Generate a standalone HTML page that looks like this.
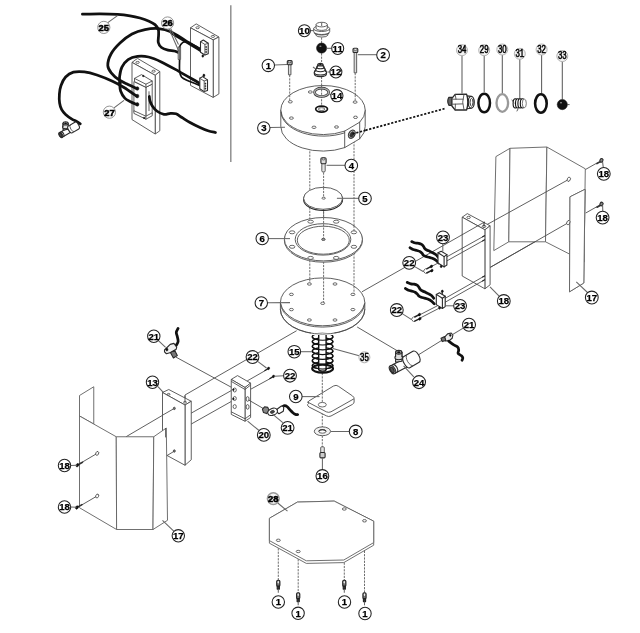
<!DOCTYPE html>
<html><head><meta charset="utf-8"><title>Exploded parts diagram</title>
<style>
html,body{margin:0;padding:0;background:#fff;}
body{width:640px;height:633px;overflow:hidden;font-family:"Liberation Sans",sans-serif;}
svg{display:block;will-change:transform;}
.t{fill:none;stroke:#4a4a4a;stroke-width:.88;stroke-linejoin:round;stroke-linecap:round}
.tf{fill:#fff;stroke:#4a4a4a;stroke-width:.88;stroke-linejoin:round}
.sf{fill:#fff;stroke:#606060;stroke-width:.9;stroke-linejoin:round}
.tk{fill:none;stroke:#2a2a2a;stroke-width:1.1;stroke-linejoin:round;stroke-linecap:round}
.tkf{fill:#fff;stroke:#2a2a2a;stroke-width:1.1;stroke-linejoin:round}
.g{fill:none;stroke:#777;stroke-width:.7}
.c{fill:none;stroke:#111;stroke-width:2.75;stroke-linecap:round;stroke-linejoin:round}
.c2{fill:none;stroke:#111;stroke-width:1.7;stroke-linecap:round;stroke-linejoin:round}
.d{fill:none;stroke:#666;stroke-width:.95;stroke-dasharray:2.2 1.1}
.dd{fill:none;stroke:#111;stroke-width:1.75;stroke-dasharray:2.2 1.6}
.ld{fill:none;stroke:#666;stroke-width:1.05}
.lg{fill:none;stroke:#5c5c5c;stroke-width:1.05}
.lb{fill:#fff;stroke:#222;stroke-width:1.05}
.lbg{fill:#f3f3f3;stroke:#aaa;stroke-width:.9}
.lt{font-family:"Liberation Sans",sans-serif;font-weight:bold;font-size:9.6px;text-anchor:middle;fill:#000;stroke:#000;stroke-width:.25}
.ltn{font-family:"Liberation Sans",sans-serif;font-weight:normal;font-size:9.8px;text-anchor:middle;fill:#000;stroke:#000;stroke-width:.5}
.lbi{fill:#fff;stroke:#888;stroke-width:.9}
.lti{font-family:"Liberation Sans",sans-serif;font-weight:bold;font-size:9.4px;text-anchor:middle;fill:#000;stroke:#000;stroke-width:.55}
.h{fill:#fff;stroke:#3a3a3a;stroke-width:.75}
.bk{fill:#111;stroke:#111;stroke-width:.5}
.gy{fill:#bbb;stroke:#333;stroke-width:.6}
</style></head><body>
<svg width="640" height="633" viewBox="0 0 640 633">
<rect x="0" y="0" width="640" height="633" fill="#fff"/>
<line class="lg" x1="230.8" y1="5.2" x2="230.8" y2="162" style="stroke:#8c8c8c;stroke-width:1.45"/>
<line class="d" x1="321.6" y1="37.5" x2="321.6" y2="43" />
<line class="d" x1="321.6" y1="53.3" x2="321.6" y2="63.5" />
<line class="d" x1="321.6" y1="76.8" x2="321.6" y2="88" />
<line class="d" x1="289.7" y1="75" x2="289.7" y2="95" />
<line class="d" x1="355.2" y1="73" x2="355.2" y2="95" />
<line class="d" x1="309.8" y1="148" x2="309.8" y2="284" />
<line class="d" x1="354" y1="141" x2="354" y2="294.3" />
<line class="d" x1="323.6" y1="172.5" x2="323.6" y2="303" />
<line class="d" x1="322.3" y1="373" x2="322.3" y2="447" />
<line class="t" x1="362.3" y1="291.6" x2="484" y2="222.3" />
<line class="t" x1="490.5" y1="267.2" x2="566.9" y2="223.5" />
<polyline class="t" points="296.3,330.9 185,395 185,402"/>
<line class="t" x1="357.5" y1="327.2" x2="397" y2="350.6" />
<line class="t" x1="418.8" y1="354.6" x2="442.5" y2="339.9" />
<line class="t" x1="176.3" y1="357.3" x2="233.8" y2="388.6" />
<line class="t" x1="126.3" y1="436.6" x2="173.3" y2="409" />
<line class="dd" x1="354.5" y1="133.3" x2="444.5" y2="108.7" />
<polygon class="tf" points="190.5,27.8 196.2,23.9 218.9,37 213.2,39.9"/>
<polygon class="tf" points="213.2,39.9 218.9,37 218.9,93.9 213.2,97.4"/>
<polygon class="tf" points="190.5,27.8 213.2,39.9 213.2,97.4 190.5,85.4"/>
<ellipse class="h" cx="197.6" cy="27.7" rx="1.7" ry="1" />
<ellipse class="h" cx="212.9" cy="36.4" rx="1.7" ry="1" />
<polygon class="tf" points="132,62.4 137.5,58.4 159.8,71.5 155.2,75.3"/>
<polygon class="tf" points="155.2,75.3 159.8,71.5 159.8,130.8 155.2,134"/>
<polygon class="tf" points="132,62.4 155.2,75.3 155.2,134 132,119.6"/>
<ellipse class="h" cx="137.6" cy="62.4" rx="1.7" ry="1" />
<ellipse class="h" cx="153.6" cy="71.2" rx="1.7" ry="1" />
<polygon class="tf" points="145.9,87.3 152.2,84.1 152.2,114.2 145.9,117.4"/>
<polygon class="tf" points="133.9,81.6 145.9,87.3 145.9,117.4 133.9,111.6"/>
<polygon class="tf" points="134.5,78.4 141.5,74.6 152.2,81 152.2,84.1 145.9,87.3 134.5,81.6"/>
<polyline class="t" points="134.5,78.4 145.9,84.2 152.2,81"/>
<line class="t" x1="145.9" y1="84.2" x2="145.9" y2="87.3" />
<polygon class="tf" points="133.9,110.7 145.9,116.2 152.2,112.8 152.2,115.8 145.9,119.2 133.9,113.4"/>
<line class="t" x1="145.9" y1="116.2" x2="145.9" y2="119.2" />
<line class="t" x1="149" y1="91.7" x2="149" y2="110.7" />
<ellipse class="bk" cx="143.3" cy="76" rx="0.9" ry="0.7" />
<ellipse class="bk" cx="144.2" cy="117.9" rx="0.9" ry="0.7" />
<ellipse class="bk" cx="137.3" cy="88.5" rx="1.6" ry="1.8" />
<ellipse class="bk" cx="137.3" cy="96.1" rx="1.6" ry="1.8" />
<ellipse class="bk" cx="137.3" cy="104.4" rx="1.6" ry="1.8" />
<path class="c" d="M82.4,14.2 C85.33,14.15 94.15,13.87 100,13.9 C105.85,13.93 112.5,14.08 117.5,14.4 C122.5,14.72 126.25,15.2 130,15.8 C133.75,16.4 136.83,17.1 140,18 C143.17,18.9 146.5,20.1 149,21.2 C151.5,22.3 153.45,23.22 155,24.6 C156.55,25.98 157.7,27.77 158.3,29.5 C158.9,31.23 158.6,32.83 158.6,35 C158.6,37.17 157.82,40.42 158.3,42.5 C158.78,44.58 159.88,46.22 161.5,47.5 C163.12,48.78 165.85,49.62 168,50.2 C170.15,50.78 172.63,50.6 174.4,51 C176.17,51.4 177.9,52.33 178.6,52.6" />
<path class="c" d="M200.3,49 C199.75,48.75 199.47,48.9 197,47.5 C194.53,46.1 189.78,43.18 185.5,40.6 C181.22,38.02 175.8,34 171.3,32 C166.8,30 162.88,29 158.5,28.6 C154.12,28.2 149.42,28.7 145,29.6 C140.58,30.5 136.17,31.77 132,34 C127.83,36.23 123.5,39.67 120,43 C116.5,46.33 113.03,50.23 111,54 C108.97,57.77 107.68,62.37 107.8,65.6 C107.92,68.83 109.88,71.05 111.7,73.4 C113.53,75.75 116.03,77.85 118.75,79.7 C121.47,81.55 125.04,83.05 128,84.5 C130.96,85.95 135.08,87.75 136.5,88.4" />
<path class="c2" d="M200.3,51 C199.83,50.72 199.55,50.55 197.5,49.3 C195.45,48.05 191.25,45.47 188,43.5 C184.75,41.53 180.78,39.17 178,37.5 C175.22,35.83 172.42,34.17 171.3,33.5" />
<path class="c" d="M199.8,83.4 C199.33,83.13 200.57,83.85 197,81.8 C193.43,79.75 184.35,74.42 178.4,71.1 C172.45,67.78 166.28,64.25 161.3,61.9 C156.32,59.55 152.47,57.92 148.5,57 C144.53,56.08 140.9,55.97 137.5,56.4 C134.1,56.83 130.7,57.8 128.1,59.6 C125.5,61.4 123.32,64.37 121.9,67.2 C120.48,70.03 119.95,73.8 119.6,76.6 C119.25,79.4 119.63,81.6 119.8,84 C119.97,86.4 119.73,88.6 120.6,91 C121.47,93.4 123.27,96.57 125,98.4 C126.73,100.23 129.08,101 131,102 C132.92,103 135.58,104 136.5,104.4" />
<path class="c2" d="M199.8,85.6 C199.38,85.4 199.27,85.2 197.3,84.4 C195.33,83.6 190.63,82.03 188,80.8 C185.37,79.57 182.9,78.63 181.5,77 C180.1,75.37 179.92,73.83 179.6,71 C179.28,68.17 179.6,61.83 179.6,60" />
<circle class="bk" cx="119.8" cy="83.4" r="1.5"/>
<path class="c2" d="M179.4,47.5 C179.67,46.97 180.23,45.22 181,44.3 C181.77,43.38 182.67,42.3 184,42 C185.33,41.7 186.83,41.7 189,42.5 C191.17,43.3 195.67,46.08 197,46.8" />
<polygon class="tf" points="178.2,47 180.6,47 180.6,59.5 178.2,59.5"/>
<line class="t" x1="179.4" y1="47" x2="179.4" y2="59.5" />
<path class="c" d="M80.3,123.8 C79.68,123.4 78,122.18 76.6,121.4 C75.2,120.62 73.73,120.27 71.9,119.1 C70.07,117.93 67.3,115.97 65.6,114.4 C63.9,112.83 62.7,111.6 61.7,109.7 C60.7,107.8 59.98,105.62 59.6,103 C59.22,100.38 59.17,96.92 59.4,94 C59.63,91.08 59.97,88.33 61,85.5 C62.03,82.67 63.53,79.22 65.6,77 C67.67,74.78 70.27,73.05 73.4,72.2 C76.53,71.35 80.48,71.43 84.4,71.9 C88.32,72.37 92.22,73.44 96.9,75 C101.58,76.56 107.98,79.17 112.5,81.25 C117.02,83.33 120,85.03 124,87.5 C128,89.97 134.42,94.67 136.5,96.1" />
<path class="c" d="M149.3,96.5 C149.42,97.25 149.5,99.42 150,101 C150.5,102.58 151.17,104.33 152.3,106 C153.43,107.67 154.87,109.6 156.8,111 C158.73,112.4 161.62,114.02 163.9,114.4 C166.18,114.78 168.48,113.4 170.5,113.3 C172.52,113.2 174.08,113.1 176,113.8 C177.92,114.5 179.67,116.05 182,117.5 C184.33,118.95 187,120.83 190,122.5 C193,124.17 197,126.12 200,127.5 C203,128.88 205.42,129.97 208,130.8 C210.58,131.63 214.25,132.22 215.5,132.5" />
<polygon class="tkf" points="200.5,41.7 203.3,40 208.2,43.3 208.2,53.8 204.9,55 200.5,52.2"/>
<polyline class="t" points="200.5,41.7 204.9,44.4 208.2,43.3"/>
<line class="t" x1="204.9" y1="44.4" x2="204.9" y2="55" />
<ellipse class="bk" cx="206.1" cy="47" rx="0.5" ry="0.7" />
<ellipse class="bk" cx="206.1" cy="49.5" rx="0.5" ry="0.7" />
<ellipse class="bk" cx="206.1" cy="52" rx="0.5" ry="0.7" />
<polygon class="tkf" points="199.8,78.3 202.6,76.6 207.5,79.9 207.5,90.4 204.2,91.6 199.8,88.8"/>
<polyline class="t" points="199.8,78.3 204.2,81 207.5,79.9"/>
<line class="t" x1="204.2" y1="81" x2="204.2" y2="91.6" />
<ellipse class="bk" cx="205.4" cy="83.6" rx="0.5" ry="0.7" />
<ellipse class="bk" cx="205.4" cy="86.1" rx="0.5" ry="0.7" />
<ellipse class="bk" cx="205.4" cy="88.6" rx="0.5" ry="0.7" />
<ellipse class="bk" cx="202.8" cy="56" rx="0.9" ry="1.2" />
<ellipse class="bk" cx="203.9" cy="75.4" rx="1" ry="1.3" />
<path class="tkf" d="M68.85,127.16 L59.45,132.66 L62.15,137.34 L71.55,131.84 Z" />
<ellipse class="tkf" cx="60.8" cy="135" rx="2.84" ry="1.62" transform="rotate(60 60.8 135)" style="fill:#aaa"/>
<ellipse class="tkf" cx="60.57" cy="135.13" rx="1.84" ry="0.97" transform="rotate(60 60.57 135.13)" style="fill:#555"/>
<path class="tk" d="M61.2,131.65 A2.84,1.62 60 0 1 63.9,136.33" />
<path class="tkf" d="M63.1,130.2 L63.1,123.4 L68.1,123.4 L68.1,129.2 Z" style="fill:#ddd"/>
<path class="tk" d="M63.1,126.7 A2.5,1.6 0 0 0 68.1,126.7" />
<ellipse class="tkf" cx="65.6" cy="127.02" rx="3.05" ry="1.84" style="fill:#ddd"/>
<path class="tkf" d="M63.1,126.7 L63.1,123.4 L68.1,123.4 L68.1,126.7" style="fill:#ddd"/>
<ellipse class="tkf" cx="65.6" cy="123.4" rx="2.5" ry="1.6" style="fill:#bbb"/>
<ellipse class="bk" cx="65.6" cy="123.4" rx="1.2" ry="0.72" />
<path class="tkf" d="M68.25,126.12 L74.85,122.22 A3.9,1.95 60 0 1 78.75,128.98 L72.15,132.88 A3.9,1.72 60 0 1 68.25,126.12 Z" />
<path class="t" d="M70.38,124.89 A3.9,1.72 60 0 0 74.28,131.65" />
<line class="ld" x1="117.5" y1="15.6" x2="107.8" y2="22.6" />
<circle class="lbi" cx="103.8" cy="27.4" r="6.1"/>
<text class="lti" x="103.8" y="30.7">25</text>
<line class="ld" x1="169.2" y1="29" x2="178.9" y2="51.5" />
<line class="ld" x1="170.6" y1="28.6" x2="178.5" y2="44.5" />
<circle class="lbi" cx="167.6" cy="23" r="6.1"/>
<text class="lti" x="167.6" y="26.3">26</text>
<line class="ld" x1="114" y1="107.8" x2="124" y2="100.3" />
<circle class="lbi" cx="109.4" cy="112.2" r="6.1"/>
<text class="lti" x="109.4" y="115.5">27</text>
<path class="tf" d="M315.8,32.8 L315.8,35.2 A6.2,2.4 0 0 0 327.9,35.2 L327.9,32.8" />
<path class="tf" d="M313.7,28.6 L313.7,31.6 A8,2.9 0 0 0 329.7,31.6 L329.7,28.6" />
<ellipse class="tf" cx="321.7" cy="28.6" rx="8" ry="2.9" />
<path class="tf" d="M316.1,24.6 L316.1,28.2 A5.6,2.2 0 0 0 327.3,28.2 L327.3,24.6" />
<ellipse class="tf" cx="321.7" cy="24.6" rx="5.6" ry="2.3" />
<line class="t" x1="321.7" y1="23" x2="321.7" y2="25.6" />
<path class="t" d="M314.2,33.2 A8,2.9 0 0 0 329.2,33.2" />
<line class="ld" x1="310.6" y1="30.6" x2="313.6" y2="30.6" />
<circle class="lb" cx="304.4" cy="30.7" r="6"/>
<text class="lt" x="304.4" y="34.1">10</text>
<circle class="bk" cx="321.6" cy="48.1" r="5.1"/>
<ellipse class="gy" cx="320.4" cy="46.2" rx="1.1" ry="0.8" style="fill:#888;stroke:none"/>
<line class="ld" x1="326.9" y1="48.3" x2="331.6" y2="48.3" />
<circle class="lb" cx="337.7" cy="48.4" r="6"/>
<text class="lt" x="337.7" y="51.8">11</text>
<path class="tkf" d="M314.3,72.2 L314.3,73.8 A6.1,2.8 0 0 0 326.5,73.8 L326.5,72.2" />
<ellipse class="tkf" cx="320.4" cy="72.2" rx="6.1" ry="2.8" />
<path class="tk" d="M315.6,69.5 L315.2,71.5 M325.2,69.5 L325.6,71.5" />
<ellipse class="tkf" cx="320.4" cy="69.6" rx="4.8" ry="2.2" />
<path class="tk" d="M316.8,67 L316.4,69 M324,67 L324.4,69" />
<ellipse class="tkf" cx="320.4" cy="67" rx="3.6" ry="1.8" />
<path class="tk" d="M317.9,64.6 L317.6,66.6 M322.9,64.6 L323.2,66.6" />
<ellipse class="tkf" cx="320.4" cy="64.7" rx="2.5" ry="1.3" />
<ellipse class="bk" cx="320.4" cy="64.7" rx="1.2" ry="0.6" />
<line class="ld" x1="313" y1="67" x2="315" y2="68.5" />
<line class="ld" x1="327.4" y1="72" x2="329.8" y2="72" />
<circle class="lb" cx="335.9" cy="72" r="6"/>
<text class="lt" x="335.9" y="75.4">12</text>
<rect class="tf" x="288.45" y="64.5" width="2.5" height="10.3" style="fill:#ddd"/>
<rect class="tkf" x="287.3" y="60.6" width="4.8" height="4.2" rx="1" style="fill:#bbb"/>
<ellipse class="h" cx="289.7" cy="61.8" rx="1.7" ry="0.9" />
<rect class="tf" x="354.15" y="52.2" width="2.5" height="20.6" style="fill:#ddd"/>
<rect class="tkf" x="353" y="48.3" width="4.8" height="4.2" rx="1" style="fill:#bbb"/>
<ellipse class="h" cx="355.4" cy="49.5" rx="1.7" ry="0.9" />
<line class="ld" x1="274.5" y1="65" x2="287.3" y2="64.6" />
<circle class="lb" cx="268.3" cy="65.4" r="6.2"/>
<text class="lt" x="268.3" y="68.8">1</text>
<line class="ld" x1="357.8" y1="54.7" x2="376.8" y2="54.7" />
<circle class="lb" cx="383.1" cy="55" r="6.4"/>
<text class="lt" x="383.1" y="58.4">2</text>
<path class="tf" d="M280.8,110 L280.8,126.5 A42.2,24.5 0 0 0 344.7,147.6 L359.7,138.8 A42.2,24.5 0 0 0 365.2,126.5 L365.2,110 Z" />
<path class="tf" d="M280.8,110 A42.2,24.5 0 0 1 365.2,110 A42.2,24.5 0 0 1 359.7,122.2 L344.7,131.1 A42.2,24.5 0 0 1 280.8,110 Z" />
<path class="t" d="M281,112.2 A42.2,24.5 0 0 0 344.7,132.8" />
<line class="t" x1="344.7" y1="131.1" x2="344.7" y2="147.6" />
<line class="t" x1="359.7" y1="122.2" x2="359.7" y2="138.8" />
<ellipse class="h" cx="290.3" cy="101.8" rx="2" ry="1.2" />
<ellipse class="h" cx="310.3" cy="92" rx="2" ry="1.2" />
<ellipse class="h" cx="291.4" cy="118.1" rx="2" ry="1.2" />
<ellipse class="h" cx="314" cy="127.3" rx="2" ry="1.2" />
<ellipse class="h" cx="336.5" cy="127" rx="2" ry="1.2" />
<ellipse class="h" cx="355.5" cy="117.3" rx="2" ry="1.2" />
<ellipse class="h" cx="355.1" cy="102.1" rx="2" ry="1.2" />
<ellipse class="tf" cx="351.8" cy="134.2" rx="3.1" ry="4.4" transform="rotate(30 351.8 134.2)" style="fill:#bbb;stroke:#222;stroke-width:1"/>
<ellipse class="gy" cx="352" cy="134.4" rx="1.8" ry="2.9" transform="rotate(30 352 134.4)" style="fill:#333"/>
<line class="d" x1="289.7" y1="95" x2="289.7" y2="101" />
<line class="d" x1="355.2" y1="95" x2="355.2" y2="101.3" />
<line class="d" x1="321.6" y1="86" x2="321.6" y2="106.4" />
<ellipse class="t" cx="321.6" cy="92.3" rx="7.1" ry="4.2" style="stroke:#2a2a2a;stroke-width:2.6"/>
<ellipse class="t" cx="321.6" cy="92.3" rx="7.1" ry="4.2" style="stroke:#aaa;stroke-width:1.4"/>
<ellipse class="t" cx="321.6" cy="109.1" rx="5.9" ry="3" style="stroke:#111;stroke-width:1.7;fill:#fff"/>
<ellipse class="h" cx="321.6" cy="109.1" rx="3.2" ry="1.4" />
<line class="ld" x1="329.6" y1="94.3" x2="331" y2="94.8" />
<circle class="lb" cx="336.9" cy="95.7" r="6.1"/>
<text class="lt" x="336.9" y="99.1">14</text>
<line class="ld" x1="270" y1="127.5" x2="285" y2="127.3" />
<circle class="lb" cx="263.8" cy="127.9" r="6.2"/>
<text class="lt" x="263.8" y="131.3">3</text>
<line class="dd" x1="352.6" y1="133.8" x2="366" y2="130.15" />
<rect class="tf" x="321.8" y="163" width="3.4" height="9" rx="1.2" style="fill:#e4e4e4"/>
<rect class="tkf" x="320.9" y="157.7" width="5.2" height="6" rx="1.2" style="fill:#ddd"/>
<ellipse class="h" cx="323.5" cy="159" rx="1.8" ry="0.9" />
<line class="ld" x1="326.5" y1="165.3" x2="345.2" y2="165.3" />
<circle class="lb" cx="351.3" cy="165.5" r="6.3"/>
<text class="lt" x="351.3" y="168.9">4</text>
<ellipse class="tk" cx="323.1" cy="199.5" rx="19.5" ry="11" />
<ellipse class="tf" cx="323.1" cy="198.3" rx="19.5" ry="11" />
<line class="d" x1="323.6" y1="187.6" x2="323.6" y2="197.4" />
<ellipse class="h" cx="323.65" cy="198.2" rx="1.7" ry="1" />
<line class="ld" x1="336.9" y1="198.3" x2="358.7" y2="198.3" />
<circle class="lb" cx="365" cy="198.5" r="6.3"/>
<text class="lt" x="365" y="201.9">5</text>
<ellipse class="tf" cx="323.4" cy="240.5" rx="39" ry="21.7" />
<ellipse class="tf" cx="323.4" cy="239.2" rx="39" ry="21.7" />
<ellipse class="tf" cx="323" cy="239.4" rx="27.8" ry="15.7" />
<ellipse class="tf" cx="323.3" cy="240.2" rx="26" ry="14" />
<ellipse class="h" cx="292.1" cy="232.3" rx="2.8" ry="1.5" />
<ellipse class="h" cx="292.1" cy="246.8" rx="2.8" ry="1.5" />
<ellipse class="h" cx="310.6" cy="221.7" rx="2.8" ry="1.5" />
<ellipse class="h" cx="310.6" cy="257.9" rx="2.8" ry="1.5" />
<ellipse class="h" cx="353.9" cy="232.3" rx="2.8" ry="1.5" />
<ellipse class="h" cx="353.9" cy="246.8" rx="2.8" ry="1.5" />
<ellipse class="h" cx="336.2" cy="221.7" rx="2.8" ry="1.5" />
<ellipse class="h" cx="336.2" cy="257.9" rx="2.8" ry="1.5" />
<line class="d" x1="354" y1="225.6" x2="354" y2="231.4" />
<line class="d" x1="323.6" y1="211" x2="323.6" y2="238.6" />
<ellipse class="h" cx="323.4" cy="239.4" rx="1.8" ry="1.1" style="fill:#999"/>
<line class="ld" x1="268.3" y1="238.6" x2="290" y2="238.6" />
<circle class="lb" cx="262.2" cy="238.6" r="6.2"/>
<text class="lt" x="262.2" y="242">6</text>
<path class="tf" d="M280.40000000000003,302.5 L280.40000000000003,309.5 A42.2,24.6 0 0 0 364.8,309.5 L364.8,302.5 Z" />
<ellipse class="tf" cx="322.6" cy="302.5" rx="42.2" ry="24.6" />
<path class="t" d="M280.70000000000005,304.1 A42.2,24.6 0 0 0 364.5,304.1" />
<line class="d" x1="309.8" y1="279.3" x2="309.8" y2="283.4" />
<line class="d" x1="354" y1="286.2" x2="354" y2="293.6" />
<line class="d" x1="323.6" y1="278" x2="323.6" y2="302.6" />
<ellipse class="h" cx="309.4" cy="284" rx="2" ry="1.2" />
<ellipse class="h" cx="335" cy="284" rx="2" ry="1.2" />
<ellipse class="h" cx="291.4" cy="294.4" rx="2" ry="1.2" />
<ellipse class="h" cx="352.9" cy="294.4" rx="2" ry="1.2" />
<ellipse class="h" cx="291.4" cy="309.6" rx="2" ry="1.2" />
<ellipse class="h" cx="352.9" cy="309.6" rx="2" ry="1.2" />
<ellipse class="h" cx="309.4" cy="320" rx="2" ry="1.2" />
<ellipse class="h" cx="335" cy="320" rx="2" ry="1.2" />
<ellipse class="h" cx="322.7" cy="303.3" rx="2" ry="1.2" />
<line class="ld" x1="267.5" y1="302.8" x2="290" y2="302.6" />
<circle class="lb" cx="261.3" cy="303" r="6.2"/>
<text class="lt" x="261.3" y="306.4">7</text>
<ellipse class="c2" cx="322.6" cy="336.7" rx="10.3" ry="3.5" style="stroke-width:1.35"/>
<ellipse class="c2" cx="322.6" cy="341.5" rx="10.3" ry="3.5" style="stroke-width:1.35"/>
<ellipse class="c2" cx="322.6" cy="346.3" rx="10.3" ry="3.5" style="stroke-width:1.35"/>
<ellipse class="c2" cx="322.6" cy="351.1" rx="10.3" ry="3.5" style="stroke-width:1.35"/>
<ellipse class="c2" cx="322.6" cy="355.9" rx="10.3" ry="3.5" style="stroke-width:1.35"/>
<ellipse class="c2" cx="322.6" cy="360.7" rx="10.3" ry="3.5" style="stroke-width:1.35"/>
<ellipse class="c2" cx="322.6" cy="365.5" rx="10.3" ry="3.5" style="stroke-width:1.35"/>
<rect x="318.7" y="333" width="7.4" height="36.6" fill="#fff"/>
<path class="c2" d="M318.7,369.4 A3.7,1.7 0 0 0 326.1,369.4" style="stroke-width:1.3;fill:#fff"/>
<line class="c2" x1="318.7" y1="334" x2="318.7" y2="369.4" style="stroke-width:1.4"/>
<line class="c2" x1="326.1" y1="334" x2="326.1" y2="369.4" style="stroke-width:1.4"/>
<path class="c2" d="M312.3,336.7 A10.3,3.5 0 0 0 332.9,336.7" style="stroke-width:1.15"/>
<path class="c2" d="M312.3,341.5 A10.3,3.5 0 0 0 332.9,341.5" style="stroke-width:1.15"/>
<path class="c2" d="M312.3,346.3 A10.3,3.5 0 0 0 332.9,346.3" style="stroke-width:1.15"/>
<path class="c2" d="M312.3,351.1 A10.3,3.5 0 0 0 332.9,351.1" style="stroke-width:1.15"/>
<path class="c2" d="M312.3,355.9 A10.3,3.5 0 0 0 332.9,355.9" style="stroke-width:1.15"/>
<path class="c2" d="M312.3,360.7 A10.3,3.5 0 0 0 332.9,360.7" style="stroke-width:1.15"/>
<path class="c2" d="M312.3,365.5 A10.3,3.5 0 0 0 332.9,365.5" style="stroke-width:1.15"/>
<ellipse class="c2" cx="322.6" cy="368.6" rx="10.4" ry="4" style="stroke-width:2.1"/>
<path class="tf" d="M311,331.5 A42.2,24.6 0 0 0 334.5,331.3 L334.5,335 L311,335 Z" style="stroke:none"/>
<path class="t" d="M280.4,309.5 A42.2,24.6 0 0 0 364.8,309.5" />
<line class="ld" x1="300.6" y1="351.7" x2="312" y2="351.7" />
<circle class="lb" cx="294.3" cy="351.7" r="6.3"/>
<text class="lt" x="294.3" y="355.1">15</text>
<line class="ld" x1="332.8" y1="348.4" x2="359.2" y2="355.7" />
<circle class="lbg" cx="364.4" cy="357.3" r="5.5"/>
<text class="ltn" transform="translate(364.4,360.5) scale(.8,1.06)">35</text>
<path class="tf" d="M308.5,403.5 Q307,402.2 308.8,401 L333.5,386 Q336.3,384.6 338.3,386.2 L352.6,396 Q354.3,397.3 354.1,398.6 L354.1,402 Q354.1,403.4 352.4,404.4 L331,416 Q328.6,417.1 326.3,415.8 L309,407 Q307.4,406 307.6,404.5 Z" />
<path class="t" d="M307.9,402.2 L326.3,411.8 Q328.6,412.9 331,411.8 L353.6,399" />
<line class="d" x1="322.3" y1="389.8" x2="322.3" y2="402.6" />
<ellipse class="h" cx="322.3" cy="404.7" rx="4" ry="2.3" />
<line class="ld" x1="302" y1="396.6" x2="319.5" y2="396.6" />
<circle class="lb" cx="295.8" cy="396.5" r="6.3"/>
<text class="lt" x="295.8" y="399.9">9</text>
<ellipse class="tf" cx="322.4" cy="431.3" rx="8.1" ry="4.4" style="fill:#f2f2f2"/>
<ellipse class="h" cx="322.4" cy="431.4" rx="3.6" ry="1.8" />
<path class="tk" d="M319,431 A3.6,1.8 0 0 1 325.8,431" />
<line class="ld" x1="331" y1="431.5" x2="349.3" y2="431.5" />
<circle class="lb" cx="355.7" cy="431.5" r="6.4"/>
<text class="lt" x="355.7" y="434.9">8</text>
<rect class="tf" x="320.7" y="446.8" width="3.6" height="7" rx="1" style="fill:#e4e4e4"/>
<rect class="tkf" x="319.9" y="452.5" width="5.2" height="5.4" rx="1.1" style="fill:#ccc"/>
<line class="ld" x1="322.4" y1="458" x2="322.4" y2="470" />
<circle class="lb" cx="322.4" cy="476" r="6.4"/>
<text class="lt" x="322.4" y="479.4">16</text>
<line class="lg" x1="462" y1="55.5" x2="462" y2="93.6" />
<line class="lg" x1="484.2" y1="55.5" x2="484.2" y2="92" />
<line class="lg" x1="502.3" y1="55" x2="502.3" y2="93.6" />
<line class="lg" x1="519.8" y1="59" x2="519.8" y2="106" />
<line class="lg" x1="541.6" y1="55" x2="541.6" y2="93.6" />
<line class="lg" x1="562.3" y1="61.5" x2="562.3" y2="99.5" />
<path class="tkf" d="M452.4,97.3 L448.9,97.3 Q446.5,101.3 448.9,105.3 L452.4,105.3 Z" style="fill:#666;stroke-width:1.2"/>
<path class="tkf" d="M467,95.9 L471.2,96.4 L471.2,108.2 L467,108.8 Z" />
<ellipse class="tkf" cx="471.2" cy="102.3" rx="3" ry="5.9" style="stroke-width:1.3"/>
<ellipse class="tkf" cx="471.5" cy="102.3" rx="1.5" ry="3.9" style="stroke-width:1"/>
<path class="tkf" d="M451.9,98.3 L455.2,94.3 L466.6,94.1 Q469,102 466.6,110 L455.2,110 L451.9,106 Z" style="stroke-width:1.3"/>
<line class="t" x1="452.6" y1="99.2" x2="463.2" y2="99.2" />
<line class="t" x1="452.6" y1="104.2" x2="462.6" y2="103.9" />
<path class="t" d="M463.9,94.6 Q461.4,102 463.9,109.6" />
<line class="t" x1="455.2" y1="94.3" x2="456" y2="99.2" />
<line class="t" x1="455.4" y1="104.2" x2="455.2" y2="110" />
<ellipse class="t" cx="484.2" cy="103" rx="5.8" ry="9.3" style="stroke:#111;stroke-width:2.5"/>
<ellipse class="t" cx="502.3" cy="103" rx="5.8" ry="8.8" style="stroke:#999;stroke-width:2.3"/>
<ellipse class="tf" cx="515.3" cy="103.4" rx="2.2" ry="4.6" style="stroke:#111;stroke-width:1.1"/>
<ellipse class="tf" cx="517.7" cy="103.4" rx="2.2" ry="4.6" style="stroke:#111;stroke-width:1.1"/>
<ellipse class="tf" cx="520.1" cy="103.4" rx="2.2" ry="4.6" style="stroke:#111;stroke-width:1.1"/>
<ellipse class="tf" cx="522.5" cy="103.4" rx="2.2" ry="4.6" style="stroke:#111;stroke-width:1.1"/>
<ellipse class="tf" cx="524.3" cy="103.4" rx="2" ry="4.3" style="stroke:#444;stroke-width:.7"/>
<line class="t" x1="512" y1="100" x2="514" y2="103" />
<line class="t" x1="518" y1="109" x2="517" y2="111" />
<ellipse class="t" cx="540.9" cy="103.5" rx="5.8" ry="9.2" style="stroke:#111;stroke-width:2.6"/>
<circle class="bk" cx="562.3" cy="104.6" r="5.1"/>
<ellipse class="gy" cx="561" cy="102.8" rx="1" ry="0.8" style="fill:#999;stroke:none"/>
<line class="t" x1="567.4" y1="104.6" x2="569.2" y2="104.6" />
<circle class="lbg" cx="462" cy="50.2" r="5.5"/>
<text class="ltn" transform="translate(462,53.4) scale(.8,1.06)">34</text>
<circle class="lbg" cx="484.2" cy="50.2" r="5.5"/>
<text class="ltn" transform="translate(484.2,53.4) scale(.8,1.06)">29</text>
<circle class="lbg" cx="502.3" cy="49.5" r="5.5"/>
<text class="ltn" transform="translate(502.3,52.7) scale(.8,1.06)">30</text>
<circle class="lbg" cx="519.8" cy="53.8" r="5.5"/>
<text class="ltn" transform="translate(519.8,57) scale(.8,1.06)">31</text>
<circle class="lbg" cx="541.6" cy="49.5" r="5.5"/>
<text class="ltn" transform="translate(541.6,52.7) scale(.8,1.06)">32</text>
<circle class="lbg" cx="562.3" cy="56.1" r="5.5"/>
<text class="ltn" transform="translate(562.3,59.3) scale(.8,1.06)">33</text>
<polygon class="sf" points="495.9,156.6 510,148.3 508.8,241.8 493.8,250.6"/>
<polygon class="sf" points="510,148.3 546.9,147 545.5,241.8 508.8,241.8"/>
<polygon class="sf" points="546.9,147 585.3,168.8 585,189.3 584.1,262 570,254.3 545.5,241.8"/>
<polygon class="sf" points="570,196.8 585,189.3 583.8,283 569.5,291.8"/>
<line class="t" x1="567.3" y1="180.2" x2="485.5" y2="225.4" />
<line class="t" x1="566.9" y1="223.5" x2="490.5" y2="267.2" />
<polygon class="sf" points="570,196.8 585,189.3 583.8,283 569.5,291.8"/>
<ellipse class="h" cx="568.8" cy="179.3" rx="1.5" ry="2.2" transform="rotate(25 568.8 179.3)"/>
<ellipse class="h" cx="568.3" cy="222.6" rx="1.5" ry="2.2" transform="rotate(25 568.3 222.6)"/>
<line class="t" x1="586" y1="169.2" x2="598.4" y2="162.2" />
<path class="c2" d="M596.9,163.6 L600.4,161.6" style="stroke-width:1.6;stroke:#333"/>
<ellipse class="tkf" cx="601.4" cy="160.4" rx="1.5" ry="1.9" transform="rotate(30 601.4 160.4)" style="fill:#888"/>
<line class="t" x1="586.1" y1="212.8" x2="598.5" y2="205.8" />
<path class="c2" d="M597,207.2 L600.5,205.2" style="stroke-width:1.6;stroke:#333"/>
<ellipse class="tkf" cx="601.5" cy="204" rx="1.5" ry="1.9" transform="rotate(30 601.5 204)" style="fill:#888"/>
<line class="ld" x1="602.6" y1="162" x2="603.3" y2="167.5" />
<line class="ld" x1="602.6" y1="205.6" x2="602.8" y2="211" />
<circle class="lb" cx="603.8" cy="173.8" r="6.4"/>
<text class="lt" x="603.8" y="177.2">18</text>
<circle class="lb" cx="602.6" cy="217.6" r="6.4"/>
<text class="lt" x="602.6" y="221">18</text>
<line class="ld" x1="576.3" y1="281.8" x2="588" y2="293" />
<circle class="lb" cx="591.8" cy="297.5" r="6.4"/>
<text class="lt" x="591.8" y="300.9">17</text>
<polygon class="tf" points="462.2,217.2 467.3,213.6 490.1,225.8 484.9,229.8"/>
<polygon class="tf" points="484.9,229.8 490.1,225.8 490.1,284.8 484.9,288.8"/>
<polygon class="tf" points="462.2,217.2 484.9,229.8 484.9,288.8 462.2,276"/>
<ellipse class="h" cx="468.6" cy="217.4" rx="1.8" ry="1.1" />
<ellipse class="h" cx="484" cy="226.4" rx="1.8" ry="1.1" style="fill:#ccc"/>
<line class="tk" x1="484" y1="222.3" x2="484" y2="225.6" />
<line class="t" x1="446.9" y1="256.8" x2="484.5" y2="235.8" />
<line class="t" x1="446.9" y1="260.9" x2="484.5" y2="239.9" />
<line class="t" x1="445.4" y1="298.2" x2="484.5" y2="276" />
<line class="t" x1="445.4" y1="302.1" x2="484.5" y2="279.9" />
<line class="t" x1="462.2" y1="234.7" x2="484" y2="222.3" />
<line class="tk" x1="482.6" y1="236.8" x2="484.6" y2="235.7" />
<line class="tk" x1="482.6" y1="240.9" x2="484.6" y2="239.8" />
<line class="tk" x1="482.6" y1="277" x2="484.6" y2="275.9" />
<line class="tk" x1="482.6" y1="280.9" x2="484.6" y2="279.8" />
<line class="ld" x1="490" y1="286.8" x2="499.6" y2="296.6" />
<circle class="lb" cx="503.8" cy="301" r="6.4"/>
<text class="lt" x="503.8" y="304.4">18</text>
<path class="c" d="M411.8,241.6 C412.42,241.83 414.34,242.7 415.5,243 C416.66,243.3 417.73,243.17 418.75,243.4 C419.77,243.63 420.83,243.93 421.6,244.4 C422.38,244.88 422.87,245.55 423.4,246.25 C423.93,246.95 424.25,247.97 424.8,248.6 C425.35,249.22 425.83,249.53 426.7,250 C427.57,250.47 428.98,250.93 430,251.4 C431.02,251.87 431.78,252.25 432.8,252.8 C433.82,253.35 435.17,253.92 436.1,254.7 C437.03,255.48 438.02,257.03 438.4,257.5" />
<path class="c" d="M410,247.7 C410.52,248 411.95,249.03 413.1,249.5 C414.25,249.97 415.8,250.18 416.9,250.5 C418,250.82 418.85,250.93 419.7,251.4 C420.55,251.87 421.38,252.67 422,253.3 C422.62,253.93 422.77,254.68 423.4,255.2 C424.03,255.72 424.85,256.05 425.8,256.4 C426.75,256.75 428.02,256.99 429.1,257.3 C430.18,257.61 431.13,257.75 432.3,258.25 C433.47,258.75 435,259.49 436.1,260.3 C437.2,261.11 438.43,262.63 438.9,263.1" />
<path class="c" d="M407.2,282.4 C407.82,282.63 409.74,283.5 410.9,283.8 C412.06,284.1 413.13,283.97 414.15,284.2 C415.17,284.43 416.23,284.72 417,285.2 C417.77,285.68 418.27,286.35 418.8,287.05 C419.33,287.75 419.65,288.77 420.2,289.4 C420.75,290.02 421.23,290.33 422.1,290.8 C422.97,291.27 424.38,291.73 425.4,292.2 C426.42,292.67 427.18,293.05 428.2,293.6 C429.22,294.15 430.57,294.72 431.5,295.5 C432.43,296.28 433.42,297.83 433.8,298.3" />
<path class="c" d="M405.4,288.5 C405.92,288.8 407.35,289.83 408.5,290.3 C409.65,290.77 411.2,290.98 412.3,291.3 C413.4,291.62 414.25,291.73 415.1,292.2 C415.95,292.67 416.78,293.47 417.4,294.1 C418.02,294.73 418.17,295.48 418.8,296 C419.43,296.52 420.25,296.85 421.2,297.2 C422.15,297.55 423.42,297.79 424.5,298.1 C425.58,298.41 426.53,298.55 427.7,299.05 C428.87,299.55 430.4,300.29 431.5,301.1 C432.6,301.91 433.83,303.43 434.3,303.9" />
<polygon class="tkf" points="438,252.8 441.2,251.2 446.9,254.6 446.9,265 444.1,266.9 438,263"/>
<polyline class="tk" points="438,252.8 444.1,256.6 446.9,254.6"/>
<line class="tk" x1="444.1" y1="256.6" x2="444.1" y2="266.9" />
<ellipse class="bk" cx="441.2" cy="266.4" rx="1" ry="1.2" />
<polygon class="tkf" points="436.3,294.4 439.5,292.8 445.2,296.2 445.2,306.6 442.4,308.5 436.3,304.6"/>
<polyline class="tk" points="436.3,294.4 442.4,298.2 445.2,296.2"/>
<line class="tk" x1="442.4" y1="298.2" x2="442.4" y2="308.5" />
<ellipse class="bk" cx="439.5" cy="308" rx="1" ry="1.2" />
<ellipse class="bk" cx="442.3" cy="291.3" rx="1" ry="1.2" />
<line class="tk" x1="442.3" y1="292.2" x2="442.3" y2="294.2" />
<line class="t" x1="432" y1="266.2" x2="438.5" y2="262.8" />
<polyline class="t" points="425.3,268.7 423.4,271.1 425.3,273.4"/>
<path class="c2" d="M426.7,268.8 L430.8,266.6" style="stroke:#222;stroke-width:1.5"/>
<path class="c2" d="M426.7,273 L431.3,270.7" style="stroke:#222;stroke-width:1.5"/>
<ellipse class="bk" cx="431.4" cy="266.4" rx="1.1" ry="1.5" transform="rotate(30 431.4 266.4)"/>
<ellipse class="bk" cx="431.9" cy="270.6" rx="1.1" ry="1.5" transform="rotate(30 431.9 270.6)"/>
<line class="ld" x1="414.3" y1="266.4" x2="423.6" y2="271.8" />
<line class="t" x1="437" y1="306" x2="420" y2="314.7" />
<line class="t" x1="439" y1="308.3" x2="421" y2="317.6" />
<polyline class="t" points="413.3,316.9 411.4,319.3 413.3,321.6"/>
<path class="c2" d="M414.7,317 L418.8,314.8" style="stroke:#222;stroke-width:1.5"/>
<path class="c2" d="M414.7,321.2 L419.3,318.9" style="stroke:#222;stroke-width:1.5"/>
<ellipse class="bk" cx="419.4" cy="314.6" rx="1.1" ry="1.5" transform="rotate(30 419.4 314.6)"/>
<ellipse class="bk" cx="419.9" cy="318.8" rx="1.1" ry="1.5" transform="rotate(30 419.9 318.8)"/>
<line class="ld" x1="402.2" y1="313.6" x2="411.6" y2="319.6" />
<line class="ld" x1="442.8" y1="243.8" x2="442.8" y2="251.6" />
<circle class="lb" cx="443" cy="237.3" r="6.4"/>
<text class="lt" x="443" y="240.7">23</text>
<line class="ld" x1="445.5" y1="305.8" x2="453.7" y2="305.8" />
<circle class="lb" cx="460.1" cy="305.8" r="6.4"/>
<text class="lt" x="460.1" y="309.2">23</text>
<circle class="lb" cx="409.2" cy="262.8" r="6.4"/>
<text class="lt" x="409.2" y="266.2">22</text>
<circle class="lb" cx="396.8" cy="310" r="6.4"/>
<text class="lt" x="396.8" y="313.4">22</text>
<path class="tkf" d="M404.45,358.48 L390.35,365.98 L394.65,373.42 L408.75,365.92 Z" />
<ellipse class="tkf" cx="392.5" cy="369.7" rx="4.51" ry="2.58" transform="rotate(60 392.5 369.7)" style="fill:#aaa"/>
<ellipse class="tkf" cx="392.13" cy="369.91" rx="2.92" ry="1.55" transform="rotate(60 392.13 369.91)" style="fill:#555"/>
<path class="tk" d="M393.14,364.36 A4.51,2.58 60 0 1 397.44,371.81" />
<path class="tkf" d="M395.6,362.2 L395.6,352.3 L401.9,352.3 L401.9,361.2 Z" style="fill:#ddd"/>
<path class="tk" d="M395.6,357.15 A3.15,1.9 0 0 0 401.9,357.15" />
<ellipse class="tkf" cx="398.75" cy="357.53" rx="3.84" ry="2.18" style="fill:#ddd"/>
<path class="tkf" d="M395.6,357.15 L395.6,352.3 L401.9,352.3 L401.9,357.15" style="fill:#ddd"/>
<ellipse class="tkf" cx="398.75" cy="352.3" rx="3.15" ry="1.9" style="fill:#bbb"/>
<ellipse class="bk" cx="398.75" cy="352.3" rx="1.51" ry="0.85" />
<path class="tkf" d="M403.45,356.74 L412.85,351.34 A6.3,3.15 60 0 1 419.15,362.26 L409.75,367.66 A6.3,2.77 60 0 1 403.45,356.74 Z" />
<path class="t" d="M406.89,354.76 A6.3,2.77 60 0 0 413.19,365.67" />
<line class="ld" x1="403.6" y1="365.9" x2="413.8" y2="376.9" />
<circle class="lb" cx="419" cy="382.1" r="6.5"/>
<text class="lt" x="419" y="385.5">24</text>
<path class="tkf" d="M444.4,337.4 L447.6,333.9 L451.2,333 L452.9,335 L452.2,338.2 L449.2,340.6 L445.6,341 Z" style="fill:#eee"/>
<path class="tkf" d="M441,338.2 L444.6,336.6 L445.8,340.4 L442.2,341.6 Z" style="fill:#777"/>
<ellipse class="bk" cx="450.3" cy="335.3" rx="0.9" ry="1.1" />
<path class="c" d="M448.75,341.2 C449.52,341.78 451.92,343.73 453.4,344.7 C454.88,345.67 456.72,346.12 457.6,347 C458.48,347.88 458.62,348.95 458.7,350 C458.78,351.05 457.63,352.33 458.1,353.3 C458.57,354.27 460.72,355.02 461.5,355.8 C462.28,356.58 462.72,357.25 462.8,358 C462.88,358.75 462.13,359.92 462,360.3" />
<line class="ld" x1="452.8" y1="334.4" x2="463.6" y2="327.9" />
<circle class="lb" cx="469" cy="324.7" r="6.5"/>
<text class="lt" x="469" y="328.1">21</text>
<line class="t" x1="191.3" y1="413.1" x2="233" y2="389.6" />
<line class="t" x1="191.3" y1="424" x2="233" y2="400.5" />
<polygon class="tf" points="162.5,392.5 168.75,389.5 191.25,401.25 185,405"/>
<polygon class="tf" points="185,405 191.25,401.25 191.25,459.75 185,465.25"/>
<polygon class="tf" points="162.5,392.5 185,405 185,465.25 162.5,453"/>
<line class="t" x1="185" y1="396" x2="185" y2="401.6" />
<ellipse class="h" cx="168.6" cy="394.3" rx="1.4" ry="0.9" />
<ellipse class="h" cx="185" cy="402.2" rx="1.4" ry="0.9" />
<line class="t" x1="163" y1="414.9" x2="173.3" y2="409" />
<line class="t" x1="167.4" y1="455.3" x2="173.6" y2="451.6" />
<ellipse class="h" cx="174.3" cy="408.4" rx="1" ry="1.2" style="fill:#777"/>
<ellipse class="h" cx="174.3" cy="451" rx="1" ry="1.2" style="fill:#777"/>
<polygon class="sf" points="79.5,395.5 93.75,386.75 93.75,424 79.5,416"/>
<polygon class="sf" points="79.5,416 116.25,436.75 116.6,529.5 79.5,507.75"/>
<polygon class="sf" points="116.25,436.75 153.75,436.75 153,529.5 116.6,529.5"/>
<polygon class="sf" points="153.75,436.75 166.3,428 167.5,520.3 153,529.5"/>
<line class="t" x1="165.6" y1="428.5" x2="165.6" y2="437" />
<line class="t" x1="98.3" y1="452.7" x2="80" y2="463.5" />
<line class="t" x1="98.3" y1="495.3" x2="80" y2="506" />
<ellipse class="h" cx="97.2" cy="453.4" rx="1.4" ry="2" transform="rotate(25 97.2 453.4)"/>
<ellipse class="h" cx="97.2" cy="496" rx="1.4" ry="2" transform="rotate(25 97.2 496)"/>
<path class="c2" d="M77.5,465.1 L82.5,462.3" style="stroke-width:1.6;stroke:#333"/>
<ellipse class="bk" cx="77.4" cy="465.2" rx="1.3" ry="1.8" transform="rotate(30 77.4 465.2)"/>
<path class="c2" d="M77,507.4 L82,504.6" style="stroke-width:1.6;stroke:#333"/>
<ellipse class="bk" cx="76.9" cy="507.5" rx="1.3" ry="1.8" transform="rotate(30 76.9 507.5)"/>
<line class="ld" x1="70.8" y1="465.5" x2="77" y2="465.2" />
<line class="ld" x1="70.8" y1="507" x2="76.5" y2="507.3" />
<circle class="lb" cx="64.5" cy="465.5" r="6.2"/>
<text class="lt" x="64.5" y="468.9">18</text>
<circle class="lb" cx="64.5" cy="507" r="6.2"/>
<text class="lt" x="64.5" y="510.4">18</text>
<line class="ld" x1="162.5" y1="520.3" x2="174" y2="531.3" />
<circle class="lb" cx="178.3" cy="535.8" r="6.2"/>
<text class="lt" x="178.3" y="539.2">17</text>
<line class="ld" x1="158" y1="386.6" x2="163.5" y2="392.6" />
<circle class="lb" cx="152.5" cy="382.2" r="6.2"/>
<text class="lt" x="152.5" y="385.6">13</text>
<path class="c" d="M176.2,345.3 C176.52,344.68 177.9,343 178.1,341.6 C178.3,340.2 177.7,338.43 177.4,336.9 C177.1,335.37 176.18,333.82 176.3,332.4 C176.42,330.98 177.8,329.07 178.1,328.4" />
<path class="tkf" d="M164.5,350 L170.2,344.4 L173.9,343.4 L176.7,347.2 L176.2,349.2 L171.6,352.3 L166.4,353.75 L164.5,351.9 Z" style="fill:#f2f2f2"/>
<path class="tkf" d="M170.4,352.6 L174.6,350.3 L177.3,355.6 L173.4,358 Z" style="fill:#777"/>
<ellipse class="bk" cx="166.9" cy="349.6" rx="1.1" ry="1.4" />
<line class="ld" x1="158.4" y1="340.6" x2="165.6" y2="347.4" />
<circle class="lb" cx="153.8" cy="336.3" r="6.2"/>
<text class="lt" x="153.8" y="339.7">21</text>
<polygon class="tf" points="231.25,379.4 237.5,375.6 250.6,383.1 245,387.5"/>
<polygon class="tf" points="245,387.5 250.6,383.1 250.6,417.5 245,421.25"/>
<polygon class="tf" points="231.25,379.4 245,387.5 245,421.25 231.25,414.4"/>
<polyline class="t" points="231.6,381.6 245,389.5 250.3,385.3"/>
<polyline class="t" points="231.6,412 245,418.8 250.3,415"/>
<ellipse class="h" cx="234.7" cy="390" rx="1.6" ry="2" />
<ellipse class="h" cx="234.7" cy="398.5" rx="1.6" ry="2" />
<ellipse class="h" cx="234.7" cy="406.6" rx="1.6" ry="2" />
<ellipse class="h" cx="247.6" cy="399" rx="1.5" ry="2.3" style="stroke:#333;stroke-width:.8"/>
<ellipse class="h" cx="247.6" cy="406.9" rx="1.5" ry="2.3" style="stroke:#333;stroke-width:.8"/>
<ellipse class="bk" cx="233.4" cy="389.6" rx="0.8" ry="0.9" />
<ellipse class="bk" cx="233.4" cy="398.9" rx="0.8" ry="0.9" />
<line class="t" x1="266.3" y1="370" x2="247.6" y2="380.7" />
<line class="t" x1="271.3" y1="378" x2="251.3" y2="388.9" />
<path class="c2" d="M264.9,370.5 L267.9,368.8" style="stroke:#222;stroke-width:1.3"/>
<ellipse class="bk" cx="268.5" cy="368.4" rx="1.1" ry="1.4" transform="rotate(30 268.5 368.4)"/>
<path class="c2" d="M269.9,378.5 L272.9,376.8" style="stroke:#222;stroke-width:1.3"/>
<ellipse class="bk" cx="273.5" cy="376.4" rx="1.1" ry="1.4" transform="rotate(30 273.5 376.4)"/>
<line class="ld" x1="258" y1="361.7" x2="266.5" y2="368" />
<circle class="lb" cx="252.5" cy="357" r="6.4"/>
<text class="lt" x="252.5" y="360.4">22</text>
<line class="ld" x1="274.5" y1="376.3" x2="283.6" y2="375.7" />
<circle class="lb" cx="290" cy="375.7" r="6.4"/>
<text class="lt" x="290" y="379.1">22</text>
<line class="ld" x1="247.6" y1="421.2" x2="259" y2="430.5" />
<circle class="lb" cx="263.8" cy="434.9" r="6.4"/>
<text class="lt" x="263.8" y="438.3">20</text>
<line class="t" x1="249" y1="400.2" x2="264" y2="408.9" />
<path class="c" d="M282.2,406.9 C282.6,406.7 283.76,405.72 284.6,405.7 C285.44,405.68 286.31,406.02 287.25,406.75 C288.19,407.48 289.31,409.1 290.25,410.1 C291.19,411.1 292.02,412.03 292.9,412.75 C293.77,413.47 294.7,414.11 295.5,414.4 C296.3,414.69 297.33,414.48 297.7,414.5" />
<path class="tkf" d="M262.4,409.2 L264.6,406.8 L267.8,407.4 L269.2,410.6 L266.6,413.6 L263.5,412.6 Z" style="fill:#888"/>
<path class="tkf" d="M277,409.2 L281.4,406 Q283.9,406 283.7,408.6 L283.3,411.2 L279,413.8 Q276.6,412.6 277,409.2 Z" />
<ellipse class="tkf" cx="272.6" cy="411.8" rx="5" ry="3.4" transform="rotate(-22 272.6 411.8)"/>
<ellipse class="bk" cx="272.4" cy="411.9" rx="2.2" ry="1.4" transform="rotate(-22 272.4 411.9)" style="fill:#444"/>
<line class="ld" x1="272.6" y1="414.2" x2="282.8" y2="422.6" />
<circle class="lb" cx="287.6" cy="427.8" r="6.4"/>
<text class="lt" x="287.6" y="431.2">21</text>
<polygon class="sf" points="269.4,518.3 297.4,502.1 334.2,501.1 373.7,521.2 373.7,545.2 343.8,562.6 306.3,563.4 269.4,543.2"/>
<polygon class="sf" points="269.4,518.3 297.4,502.1 334.2,501.1 373.7,521.2 373.7,542.6 343.8,560 306.3,560.8 269.4,540.6"/>
<ellipse class="h" cx="278.3" cy="540.3" rx="2" ry="1.2" />
<ellipse class="h" cx="298.2" cy="551.5" rx="2" ry="1.2" />
<ellipse class="h" cx="344.3" cy="509" rx="2" ry="1.2" />
<ellipse class="h" cx="364.5" cy="520.8" rx="2" ry="1.2" />
<line class="d" x1="278.3" y1="548.3" x2="278.3" y2="580" />
<line class="d" x1="298.2" y1="559.2" x2="298.2" y2="592.5" />
<line class="d" x1="344.3" y1="562.6" x2="344.3" y2="580" />
<line class="d" x1="364.5" y1="550.8" x2="364.5" y2="592.5" />
<rect class="tkf" x="276.7" y="580.3" width="3.2" height="6.2" rx="1.2" style="fill:#777;stroke:#222"/>
<ellipse class="h" cx="278.3" cy="582.3" rx="0.7" ry="1.3" style="stroke:none;fill:#eee"/>
<rect class="tkf" x="277.2" y="586.1" width="2.2" height="3" style="fill:#333;stroke:#222"/>
<line class="ld" x1="278.3" y1="589.1" x2="278.3" y2="592.8" />
<rect class="tkf" x="296.6" y="592.8" width="3.2" height="6.2" rx="1.2" style="fill:#777;stroke:#222"/>
<ellipse class="h" cx="298.2" cy="594.8" rx="0.7" ry="1.3" style="stroke:none;fill:#eee"/>
<rect class="tkf" x="297.1" y="598.6" width="2.2" height="3" style="fill:#333;stroke:#222"/>
<line class="ld" x1="298.2" y1="601.6" x2="298.2" y2="605.3" />
<rect class="tkf" x="342.7" y="580.3" width="3.2" height="6.2" rx="1.2" style="fill:#777;stroke:#222"/>
<ellipse class="h" cx="344.3" cy="582.3" rx="0.7" ry="1.3" style="stroke:none;fill:#eee"/>
<rect class="tkf" x="343.2" y="586.1" width="2.2" height="3" style="fill:#333;stroke:#222"/>
<line class="ld" x1="344.3" y1="589.1" x2="344.3" y2="592.8" />
<rect class="tkf" x="362.9" y="592.8" width="3.2" height="6.2" rx="1.2" style="fill:#777;stroke:#222"/>
<ellipse class="h" cx="364.5" cy="594.8" rx="0.7" ry="1.3" style="stroke:none;fill:#eee"/>
<rect class="tkf" x="363.4" y="598.6" width="2.2" height="3" style="fill:#333;stroke:#222"/>
<line class="ld" x1="364.5" y1="601.6" x2="364.5" y2="605.3" />
<circle class="lb" cx="278.3" cy="602" r="6.2"/>
<text class="lt" x="278.3" y="605.4">1</text>
<circle class="lb" cx="298.1" cy="613.3" r="6.2"/>
<text class="lt" x="298.1" y="616.7">1</text>
<circle class="lb" cx="344.5" cy="602" r="6.2"/>
<text class="lt" x="344.5" y="605.4">1</text>
<circle class="lb" cx="365" cy="613.5" r="6.2"/>
<text class="lt" x="365" y="616.9">1</text>
<line class="ld" x1="277.8" y1="503" x2="287.5" y2="511.2" />
<circle class="lb" style="fill:#f6f6f6;stroke:#999;stroke-width:1.5" cx="273.3" cy="498.6" r="5.9"/>
<text class="lti" x="273.3" y="501.9">28</text>
</svg>
</body></html>
